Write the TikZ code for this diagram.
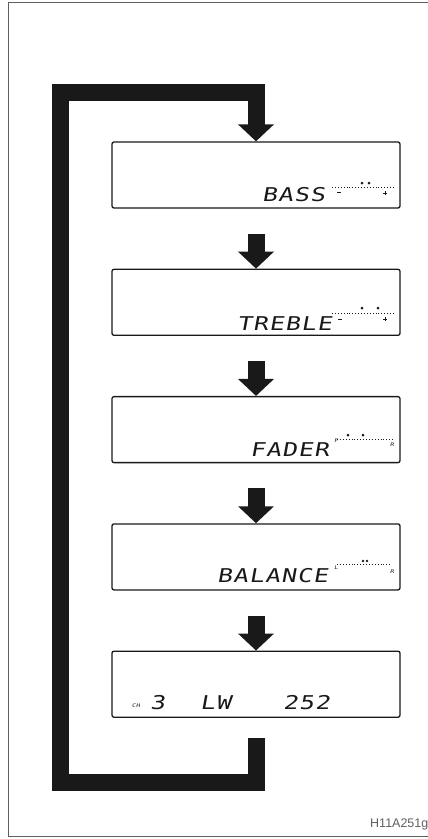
\documentclass[tikz,border=0pt]{standalone}
\usepackage{fontspec}
\setmainfont{Liberation Sans}
\newfontfamily\lcdfont[FakeSlant=0.18,FakeStretch=1.3,LetterSpace=6]{DejaVu Sans Mono}
\usetikzlibrary{arrows.meta,positioning}
\definecolor{InkBlack}{RGB}{25,25,25}
\definecolor{FrameGray}{RGB}{95,95,95}
\tikzset{
  display/.style={draw=InkBlack,line width=1.3pt,rounded corners=2pt,
    minimum width=288pt,minimum height=66pt,inner sep=0pt},
  segtext/.style={font=\lcdfont\fontsize{19}{19}\selectfont,text=InkBlack,
    inner sep=0pt,anchor=base west},
  tinymark/.style={font=\lcdfont\fontsize{5}{5}\selectfont,text=InkBlack,
    inner sep=0pt},
  block/.style={-{Triangle[width=35pt,length=17pt]},line width=17pt,InkBlack},
  scaledots/.style={InkBlack,dotted,line width=0.9pt},
  segdot/.style={fill=InkBlack,draw=none}
}

\begin{document}
\begin{tikzpicture}[x=1pt,y=-1pt,node distance=60pt]
\useasboundingbox (0,0) rectangle (428,839);
\draw[FrameGray,line width=1pt] (8,2) rectangle (432,836);

% display panels
\node[display] (b1) at (256,175) {};
\node[display,below=of b1] (b2) {};
\node[display,below=of b2] (b3) {};
\node[display,below=of b3] (b4) {};
\node[display,below=of b4] (b5) {};

% step arrows
\foreach \a/\b in {b1/b2,b2/b3,b3/b4,b4/b5}
  \draw[block] ([yshift=-25pt]\a.south) -- (\b.north);

% return loop
\coordinate (turnlow) at (60,782);
\coordinate (turnhigh) at (60,92);
\draw[block,line join=miter] ([yshift=-20pt]b5.south) -- (b5.south |- turnlow)
  -- (turnlow) -- (turnhigh) -- (b1.north |- turnhigh) -- (b1.north);

% display texts
\node[segtext] (t1) at (262,201) {BASS};
\node[segtext] (t2) at (237,330) {TREBLE};
\node[segtext] (t3) at (250,456) {FADER};
\node[segtext] (t4) at (217,582) {BALANCE};
\node[segtext] (t5a) at (150,709) {3};
\node[segtext] (t5b) at (200,709) {LW};
\node[segtext] (t5c) at (283,709) {252};
\node[tinymark] (ch) at (136,706) {CH};

% level scales
\draw[scaledots] (332,187) -- (393,187);
\fill[segdot] (362,183) circle (1.5pt) (369,183) circle (1.5pt);
\draw[InkBlack,line width=0.8pt] (337,192) -- (341,192)
  (383,193) -- (387,193) (385,191) -- (385,195);

\draw[scaledots] (332,313) -- (393,313);
\fill[segdot] (362,308) circle (1.5pt) (378,308) circle (1.5pt);
\draw[InkBlack,line width=0.8pt] (338,319) -- (342,319)
  (383,319) -- (387,319) (385,317) -- (385,321);

\draw[scaledots] (337,439) -- (393,439);
\fill[segdot] (348,435) circle (1.5pt) (363,435) circle (1.5pt);
\node[tinymark] (fl) at (336,441) {F};
\node[tinymark] (fr) at (392,445) {R};

\draw[scaledots] (337,564) -- (390,564);
\fill[segdot] (363,561) circle (1.3pt) (367,561) circle (1.3pt);
\node[tinymark] (bl) at (336,568) {L};
\node[tinymark] (br) at (392,572) {R};

\node[font=\fontsize{12.5}{12.5}\selectfont,text=FrameGray,anchor=base west,
  inner sep=0pt] (code) at (370,827) {H11A251g};
\end{tikzpicture}
\end{document}
